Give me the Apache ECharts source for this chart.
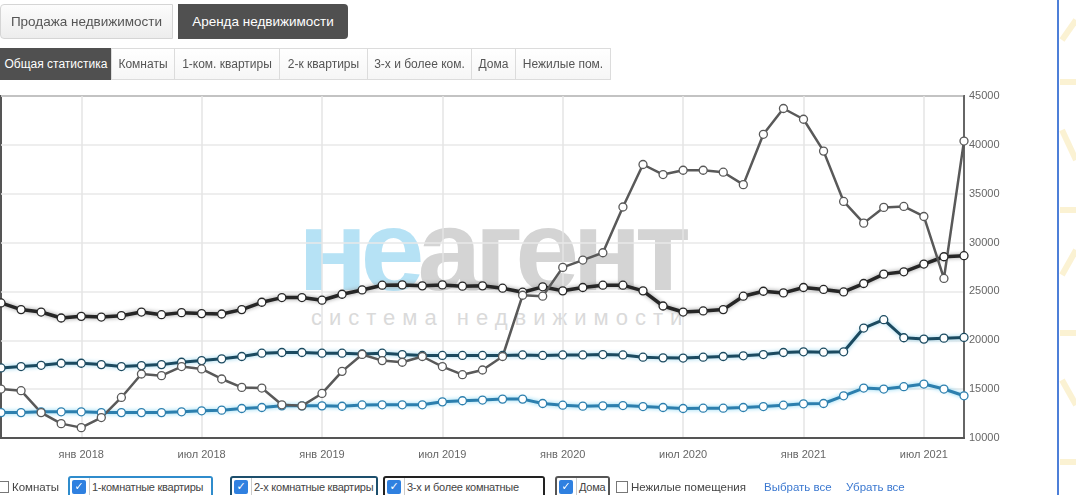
<!DOCTYPE html>
<html><head><meta charset="utf-8">
<script src="https://cdn.jsdelivr.net/npm/echarts@6/dist/echarts.min.js"></script>
<style>
html,body{margin:0;padding:0;width:1076px;height:495px;overflow:hidden;background:#fff;font-family:"Liberation Sans",Arial,sans-serif;}
.abs{position:absolute;box-sizing:border-box;}
#chart{position:absolute;left:0;top:0;width:1076px;height:495px;z-index:1;}
.wm1{position:absolute;left:298px;top:193px;font-size:115px;font-weight:bold;line-height:1;letter-spacing:-7px;white-space:nowrap;z-index:0;}
.wm2{position:absolute;left:311px;top:307px;font-size:22px;line-height:1;letter-spacing:7px;color:#dadada;white-space:nowrap;z-index:0;}
.tab{position:absolute;box-sizing:border-box;text-align:center;color:#555;white-space:nowrap;z-index:2;}
.row1{top:4px;height:35px;line-height:33px;font-size:13.5px;}
.row2{top:48px;height:32px;line-height:30px;font-size:12px;border:1px solid #dcdcdc;background:linear-gradient(#ffffff,#f6f6f6);}
.lg{position:absolute;top:476px;height:22px;box-sizing:border-box;border:2px solid #333;border-radius:3px;font-size:11px;color:#444;white-space:nowrap;z-index:2;background:#fff;overflow:hidden;}
.lg .cb{position:absolute;left:2px;top:2px;width:14px;height:14px;background:#2f80e0;border-radius:2px;color:#fff;font-size:11px;line-height:14px;text-align:center;font-family:"DejaVu Sans",sans-serif;}
.lg .tx{position:absolute;left:19px;right:0;top:0;height:18px;line-height:18px;padding:0 2px;background:#fff;border-left:1px solid #ccc;letter-spacing:-0.25px;}
.plain{position:absolute;top:480px;font-size:11.5px;color:#444;white-space:nowrap;z-index:2;line-height:14px;}
.ucb{display:inline-block;width:10px;height:10px;border:1px solid #777;background:#fff;vertical-align:-2px;margin-right:3px;}
.link{position:absolute;top:480px;font-size:11.5px;color:#3b78d0;white-space:nowrap;z-index:2;line-height:14px;}
</style>
</head>
<body>
<svg class="abs" style="left:0;top:0;z-index:0" width="1076" height="495">
  <g stroke="#fbf1cf" stroke-width="6" fill="none" opacity="0.9">
    <line x1="1060" y1="82" x2="1076" y2="82"/>
    <line x1="1060" y1="210" x2="1076" y2="210"/>
    <line x1="1060" y1="333" x2="1076" y2="333"/>
    <line x1="1060" y1="462" x2="1076" y2="462"/>
    <polyline points="1076,20 1062,40"/>
    <polyline points="1062,130 1076,160"/>
    <polyline points="1076,250 1062,275"/>
    <polyline points="1062,380 1076,405"/>
  </g>
  <line x1="1058" y1="0" x2="1058" y2="495" stroke="#4d7fd8" stroke-width="2"/>
</svg>
<div class="wm1"><span style="color:#b6e2f5">не</span><span style="color:#d4d4d4">агент</span></div>
<div class="wm2">система недвижимости</div>

<div class="tab row1" style="left:0;width:173px;border:1px solid #d5d5d5;border-radius:4px 0 0 4px;background:linear-gradient(#fcfcfc,#ededed);">Продажа недвижимости</div>
<div class="tab row1" style="left:178px;width:170px;background:#505050;color:#fff;border-radius:0 4px 4px 0;line-height:35px;">Аренда недвижимости</div>

<div class="tab row2" style="left:0;width:112px;background:#505050;color:#fff;border-color:#505050;">Общая статистика</div>
<div class="tab row2" style="left:111px;width:64px;">Комнаты</div>
<div class="tab row2" style="left:174px;width:106px;">1-ком. квартиры</div>
<div class="tab row2" style="left:279px;width:89px;">2-к квартиры</div>
<div class="tab row2" style="left:367px;width:105px;">3-х и более ком.</div>
<div class="tab row2" style="left:471px;width:45px;">Дома</div>
<div class="tab row2" style="left:515px;width:96px;">Нежилые пом.</div>

<div id="chart"></div>

<div class="plain" style="left:-3px;"><span class="ucb"></span>Комнаты</div>
<div class="lg" style="left:68px;width:145px;border-color:#2f8ccc;"><div class="cb">✓</div><div class="tx">1-комнатные квартиры</div></div>
<div class="lg" style="left:230px;width:148px;border-color:#1d4f6c;"><div class="cb">✓</div><div class="tx">2-х комнатные квартиры</div></div>
<div class="lg" style="left:383px;width:162px;border-color:#222;"><div class="cb">✓</div><div class="tx">3-х и более комнатные</div></div>
<div class="lg" style="left:555px;width:55px;border-color:#555;"><div class="cb">✓</div><div class="tx">Дома</div></div>
<div class="plain" style="left:616px;"><span class="ucb"></span>Нежилые помещения</div>
<div class="link" style="left:764px;">Выбрать все</div>
<div class="link" style="left:846px;">Убрать все</div>

<script>
const months = ['сен 2017','окт 2017','ноя 2017','дек 2017',
 'янв 2018','фев 2018','мар 2018','апр 2018','май 2018','июн 2018','июл 2018','авг 2018','сен 2018','окт 2018','ноя 2018','дек 2018',
 'янв 2019','фев 2019','мар 2019','апр 2019','май 2019','июн 2019','июл 2019','авг 2019','сен 2019','окт 2019','ноя 2019','дек 2019',
 'янв 2020','фев 2020','мар 2020','апр 2020','май 2020','июн 2020','июл 2020','авг 2020','сен 2020','окт 2020','ноя 2020','дек 2020',
 'янв 2021','фев 2021','мар 2021','апр 2021','май 2021','июн 2021','июл 2021','авг 2021','сен 2021'];

const oneRoom = [12600,12600,12680,12680,12680,12600,12600,12600,12600,12680,12780,12850,13020,13120,13290,13290,
 13290,13250,13380,13400,13400,13400,13700,13810,13880,13980,13980,13530,13360,13260,13290,13320,
 13220,13120,13020,13050,13050,13120,13220,13360,13500,13530,14320,15110,15010,15250,15520,15010,14320];

const twoRoom = [17170,17310,17440,17650,17650,17510,17310,17410,17510,17750,17920,18100,18340,18680,18750,18750,
 18680,18680,18600,18680,18540,18450,18450,18450,18450,18450,18500,18450,18500,18500,18540,18500,
 18270,18200,18180,18270,18340,18410,18540,18750,18820,18780,18820,21250,22110,20260,20120,20220,20290];

const threeRoom = [23820,23140,22890,22280,22450,22380,22520,22890,22620,22830,22730,22690,23140,23890,24370,24370,
 24100,24710,25150,25640,25670,25570,25670,25540,25570,25330,24920,25470,25060,25400,25640,25640,
 25060,23510,22890,23000,23140,24510,25020,24850,25400,25200,24950,25810,26770,27010,27800,28550,28660];

const houses = [15010,14840,12600,11470,11060,12090,14150,16550,16380,17310,17070,16040,15180,15110,13400,13290,
 14560,16820,18550,17920,17750,18340,17310,16480,16960,18340,24610,24510,27460,28210,28960,33640,
 37990,36960,37400,37400,37200,35930,41080,43720,42620,39360,34210,31990,33600,33700,32670,26330,40390];

const seriesNames = ['1-комнатные квартиры','2-х комнатные квартиры','3-х и более комнатные','Дома'];
const yTicks = {min:10000, max:45000, step:5000};

const isMark = (i, v) => v.startsWith('янв') || v.startsWith('июл');

function mk(name, data, color, width, glow) {
  return {
    name, type:'line', data,
    symbol:'circle', symbolSize:8, showAllSymbol:true,
    lineStyle:{color, width, shadowColor:glow, shadowBlur:glow?4:0},
    itemStyle:{color:'#fff', borderColor:color, borderWidth:1.3},
    emphasis:{disabled:true}
  };
}

const chart = echarts.init(document.getElementById('chart'), null, {renderer:'canvas'});
chart.setOption({
  animation:false,
  backgroundColor:'transparent',
  grid:{left:1, right:112, top:96, bottom:57, show:true, borderColor:'#555', borderWidth:2, backgroundColor:'transparent'},
  xAxis:{
    type:'category', data:months, boundaryGap:false,
    axisLine:{show:true, lineStyle:{color:'#555', width:2}},
    axisTick:{show:false},
    axisLabel:{interval:isMark, color:'#666', fontSize:11, margin:11, fontFamily:'Liberation Sans, Arial'},
    splitLine:{show:true, interval:isMark, lineStyle:{color:'#e4e4e4', width:1.5}}
  },
  yAxis:{
    type:'value', position:'right', min:yTicks.min, max:yTicks.max, interval:yTicks.step,
    axisLine:{show:true, lineStyle:{color:'#666', width:2}},
    axisTick:{show:false},
    axisLabel:{color:'#666', fontSize:11, margin:5, fontFamily:'Liberation Sans, Arial', formatter:(v)=>String(v)},
    splitLine:{lineStyle:{color:'#e8e8e8', width:1.5}}
  },
  series:[
    mk(seriesNames[0], oneRoom, '#2c7fae', 3, '#7fd3f2'),
    mk(seriesNames[1], twoRoom, '#1b4a60', 3, '#8fd0ea'),
    mk(seriesNames[2], threeRoom, '#262626', 3.5, '#999'),
    mk(seriesNames[3], houses, '#595959', 2.5, null)
  ]
});
</script>
</body></html>
